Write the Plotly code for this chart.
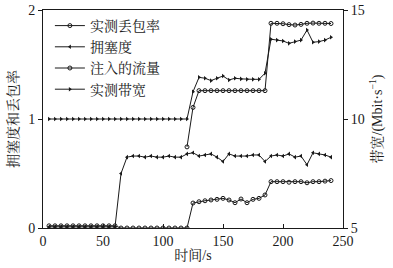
import plotly.graph_objects as go

# time axis (s)
t_all = list(range(5, 245, 5))            # 5..240
t_inj = list(range(120, 245, 5))          # 120..240

loss_rate = ([0.02] * 12 + [0.0] * 12 +
             [0.229, 0.241, 0.25, 0.257, 0.263, 0.272, 0.257, 0.232, 0.266, 0.232, 0.263, 0.272, 0.303] +
             [0.425, 0.425, 0.425, 0.42, 0.425, 0.425, 0.415, 0.425, 0.425, 0.43, 0.435])

congestion = ([0.01] * 12 +
              [0.5, 0.65, 0.66, 0.66, 0.65, 0.66, 0.65, 0.65, 0.66, 0.65, 0.65] +
              [0.68, 0.69, 0.66, 0.67, 0.68, 0.65, 0.61, 0.68, 0.66, 0.66, 0.66, 0.67, 0.67,
               0.61, 0.66, 0.67, 0.66, 0.68, 0.65, 0.66, 0.58, 0.69, 0.68, 0.67, 0.65])

injected = ([8.72, 10.53] + [11.3] * 12 +
            [14.39, 14.39, 14.37, 14.33, 14.31, 14.34, 14.39, 14.4, 14.39, 14.39, 14.38])

bandwidth = ([10.0] * 24 + [11.25] +
             [11.91, 11.87, 11.76, 11.87, 11.97, 11.79, 11.87, 11.84, 11.82, 11.82, 11.82] +
             [12.1] +
             [13.66, 13.62, 13.58, 13.47, 13.55, 13.62, 14.08, 13.52, 13.55, 13.62, 13.75])

x_ticks = [0, 50, 100, 150, 200, 250]
names = ["实测丢包率", "拥塞度", "注入的流量", "实测带宽"]

FONT = "Liberation Serif, Noto Serif CJK SC, Noto Sans CJK SC"
INK = "#1a1a1a"

fig = go.Figure()
line = dict(color=INK, width=1)
fig.add_trace(go.Scatter(x=t_all, y=loss_rate, name=names[0], mode="lines+markers",
                         line=line, marker=dict(symbol="circle-open", size=4, color=INK, line=dict(width=1))))
fig.add_trace(go.Scatter(x=t_all, y=congestion, name=names[1], mode="lines+markers",
                         line=line, marker=dict(symbol="triangle-left", size=4, color=INK)))
fig.add_trace(go.Scatter(x=t_inj, y=injected, name=names[2], mode="lines+markers", yaxis="y2",
                         line=line, marker=dict(symbol="circle-open", size=4, color=INK, line=dict(width=1))))
fig.add_trace(go.Scatter(x=t_all, y=bandwidth, name=names[3], mode="lines+markers", yaxis="y2",
                         line=line, marker=dict(symbol="triangle-right", size=4, color=INK)))

axis_common = dict(showgrid=False, zeroline=False, showline=True, linecolor=INK, linewidth=1,
                   automargin=False,
                   tickfont=dict(family=FONT, size=14, color=INK), tickcolor=INK, ticklen=4)

fig.update_layout(
    width=393, height=268,
    margin=dict(l=43, r=50, t=10, b=40),
    paper_bgcolor="white", plot_bgcolor="white",
    font=dict(family=FONT, color=INK, size=14),
    showlegend=True,
    legend=dict(x=0.023, y=1.0, xanchor="left", yanchor="top", bgcolor="rgba(0,0,0,0)",
                font=dict(family=FONT, size=14, color=INK), itemwidth=30, tracegroupgap=0),
    xaxis=dict(range=[0, 250], tickvals=x_ticks, ticks="inside", mirror=True,
               title=dict(text="时间/s", font=dict(family=FONT, size=14, color=INK), standoff=2),
               **axis_common),
    yaxis=dict(range=[0, 2], dtick=1, ticks="outside", mirror=False,
               title=dict(text="拥塞度和丢包率", font=dict(family=FONT, size=14, color=INK), standoff=6),
               **axis_common),
    yaxis2=dict(range=[5, 15], dtick=5, ticks="outside", overlaying="y", side="right",
                title=dict(text="带宽/(Mbit·s<sup>−1</sup>)", font=dict(family=FONT, size=14, color=INK), standoff=8),
                **axis_common),
)

fig.write_html("out.html", config={"displayModeBar": False},
               post_script="document.body.style.margin='0px';document.body.style.overflow='hidden';")
